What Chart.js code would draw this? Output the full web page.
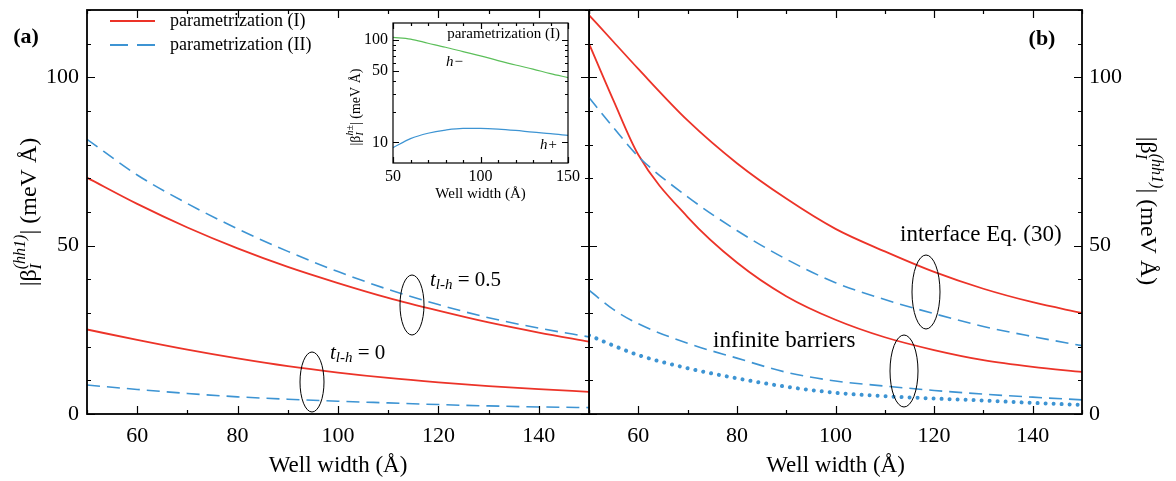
<!DOCTYPE html>
<html>
<head>
<meta charset="utf-8">
<script src="https://cdn.jsdelivr.net/npm/chart.js@4.4.1/dist/chart.umd.min.js"></script>
<style>
  body { margin: 0; background: #fff; }
  #wrap { position: relative; width: 1176px; height: 481px; overflow: hidden; }
  canvas { position: absolute; }
</style>
</head>
<body>
<div id="wrap">
  <canvas id="chartA" width="600" height="481" style="left:0;top:0"></canvas>
  <canvas id="chartB" width="587" height="481" style="left:589px;top:0"></canvas>
  <canvas id="chartInset" width="240" height="190" style="left:340px;top:15px"></canvas>
</div>
<script>
// well widths (Å)
const widths = [50, 60, 70, 80, 90, 100, 110, 120, 130, 140, 150];
const widthsB = [50, 55, 60, 70, 80, 90, 100, 110, 120, 130, 140, 150];

// panel (a), |beta| in meV Å
const aParamI_t05 = [70.2, 62.4, 55.4, 49.2, 43.7, 38.9, 34.5, 30.7, 27.2, 24.2, 21.5];
const aParamII_t05 = [81.6, 71.0, 62.5, 55.0, 48.3, 42.3, 37.0, 32.5, 28.6, 25.5, 22.9];
const aParamI_t0 = [25.1, 22.0, 19.1, 16.5, 14.2, 12.3, 10.7, 9.4, 8.3, 7.4, 6.6];
const aParamII_t0 = [8.6, 7.3, 6.1, 5.1, 4.4, 3.8, 3.3, 2.8, 2.4, 2.1, 1.9];

// panel (b)
const bIfaceI = [118.5, 110.5, 102.5, 87.2, 74.5, 64, 55, 48.3, 42.2, 37.2, 33.2, 30.0];
const bIfaceII = [94, 85, 76.5, 64.5, 54.5, 46, 39, 34, 29.8, 26, 23, 20.3];
const bInfI = [110, 93, 77, 58.5, 45, 35, 28, 22.8, 19, 16, 14, 12.5];
const bInfII = [36.8, 31, 26.8, 21, 16.6, 12.4, 9.8, 8.3, 7.0, 5.9, 5.0, 4.2];
const bDotted = [23.4, 20.3, 17.5, 13.6, 10.6, 8.1, 6.3, 5.3, 4.6, 4.0, 3.3, 2.7];

// inset, parametrization (I)
const insetHMinus = [106, 102, 93, 85, 77, 70, 63, 57, 52, 47, 43];
const insetHPlus = [8.9, 10.9, 12.3, 13.2, 13.7, 13.7, 13.5, 13.1, 12.6, 12.2, 11.7];

// ticks
const xLabelsMain = [60, 80, 100, 120, 140];
const yLabelsMain = [0, 50, 100];
const xLabelsInset = [50, 100, 150];
const yTicksInset = [10, 20, 30, 40, 50, 60, 70, 80, 90, 100];
const yLabelsInset = [10, 50, 100];

const FONT = '"Liberation Serif", "Times New Roman", serif';
const RED = '#ec3328';
const BLUE = '#3d94d3';
const GREEN = '#5cbf5a';
const DASH = [13, 7];

function pts(xs, ys) {
  return xs.map((x, i) => ({ x: x, y: ys[i] }));
}

function curve(label, xs, ys, color, dash, width) {
  return {
    label: label,
    data: pts(xs, ys),
    borderColor: color,
    borderWidth: width || 1.8,
    borderDash: dash || [],
    pointRadius: 0,
    fill: false,
    cubicInterpolationMode: 'monotone'
  };
}

// no extra room for half tick labels, the boxes are placed by hand
function noPad(s) {
  s.paddingTop = 0; s.paddingBottom = 0;
  s.paddingLeft = 0; s.paddingRight = 0;
}

// text with sub/superscripts, parts drawn one after another
function rich(ctx, parts, x, y, align, rot) {
  ctx.save();
  ctx.translate(x, y);
  ctx.rotate(rot || 0);
  ctx.textBaseline = 'middle';
  ctx.textAlign = 'left';
  ctx.fillStyle = '#000';
  let end = 0, prev = 0;
  const placed = parts.map(p => {
    ctx.font = (p.st || '') + ' ' + p.s + 'px ' + FONT;
    const w = ctx.measureText(p.t).width;
    const start = p.back ? prev : end;
    prev = start;
    end = Math.max(end, start + w);
    return { p: p, start: start };
  });
  const off = align === 'center' ? -end / 2 : (align === 'right' ? -end : 0);
  placed.forEach(q => {
    ctx.font = (q.p.st || '') + ' ' + q.p.s + 'px ' + FONT;
    ctx.fillText(q.p.t, off + q.start, q.p.dy || 0);
  });
  ctx.restore();
}

function ellipse(ctx, cx, cy, rx, ry) {
  ctx.save();
  ctx.strokeStyle = '#000';
  ctx.lineWidth = 1;
  ctx.beginPath();
  ctx.ellipse(cx, cy, rx, ry, 0, 0, Math.PI * 2);
  ctx.stroke();
  ctx.restore();
}

// box frame with inward tick marks on all four sides
function frameTicks(xMajor, yMajor, major, minor, frameW) {
  return {
    id: 'frameTicks',
    afterDatasetsDraw(chart) {
      const ctx = chart.ctx, a = chart.chartArea;
      const sx = chart.scales.x, sy = chart.scales.y;
      ctx.save();
      ctx.strokeStyle = '#000';
      ctx.lineWidth = 1.2;
      ctx.beginPath();
      sx.ticks.forEach(t => {
        const p = Math.round(sx.getPixelForValue(t.value)) + 0.5;
        const len = xMajor.includes(t.value) ? major : minor;
        ctx.moveTo(p, a.bottom); ctx.lineTo(p, a.bottom - len);
        ctx.moveTo(p, a.top); ctx.lineTo(p, a.top + len);
      });
      sy.ticks.forEach(t => {
        const p = Math.round(sy.getPixelForValue(t.value)) + 0.5;
        const len = yMajor.includes(t.value) ? major : minor;
        ctx.moveTo(a.left, p); ctx.lineTo(a.left + len, p);
        ctx.moveTo(a.right, p); ctx.lineTo(a.right - len, p);
      });
      ctx.stroke();
      ctx.lineWidth = frameW;
      ctx.strokeRect(a.left, a.top, a.right - a.left, a.bottom - a.top);
      ctx.restore();
    }
  };
}

function mainScales(yPos, yWidth, yPad) {
  return {
    x: {
      type: 'linear', min: 50, max: 150,
      grid: { display: false, drawTicks: false },
      border: { display: false },
      ticks: {
        stepSize: 10, padding: 9, autoSkip: false, maxRotation: 0, color: '#000',
        font: { family: FONT, size: 22 },
        callback: v => xLabelsMain.includes(v) ? String(v) : ''
      },
      title: {
        display: true, text: 'Well width (Å)', color: '#000',
        font: { family: FONT, size: 23 }, padding: { top: 0, bottom: 1 }
      },
      afterFit: s => { s.height = 67; noPad(s); }
    },
    y: {
      type: 'linear', min: 0, max: 120, position: yPos,
      grid: { display: false, drawTicks: false },
      border: { display: false },
      ticks: {
        stepSize: 10, padding: yPad, autoSkip: false, color: '#000',
        font: { family: FONT, size: 22 },
        callback: v => yLabelsMain.includes(v) ? String(v) : ''
      },
      afterFit: s => { s.width = yWidth; noPad(s); }
    }
  };
}

function betaTitle(sup, big, small) {
  return [
    { t: '|β', s: big },
    { t: 'I', s: small, st: 'italic', dy: big * 0.28 },
    { t: sup, s: small, st: 'italic', dy: -big * 0.38, back: true },
    { t: '| (meV Å)', s: big }
  ];
}

// panel (a)
new Chart(document.getElementById('chartA'), {
  type: 'line',
  data: {
    datasets: [
      curve('parametrization (I), t=0.5', widths, aParamI_t05, RED),
      curve('parametrization (II), t=0.5', widths, aParamII_t05, BLUE, DASH, 1.6),
      curve('parametrization (I), t=0', widths, aParamI_t0, RED),
      curve('parametrization (II), t=0', widths, aParamII_t0, BLUE, DASH, 1.6)
    ]
  },
  options: {
    animation: false, responsive: false, devicePixelRatio: 1,
    layout: { padding: { left: 0, right: 11, top: 10, bottom: 0 } },
    plugins: { legend: { display: false }, tooltip: { enabled: false } },
    scales: mainScales('left', 87, 8)
  },
  plugins: [
    frameTicks([60, 80, 100, 120, 140], yLabelsMain, 8, 4, 1.8),
    {
      id: 'notesA',
      afterDraw(chart) {
        const ctx = chart.ctx;
        rich(ctx, [{ t: '(a)', s: 22, st: 'bold' }], 26, 37, 'center');
        // legend
        ctx.save();
        ctx.lineWidth = 2;
        ctx.strokeStyle = RED;
        ctx.beginPath(); ctx.moveTo(110, 21); ctx.lineTo(155, 21); ctx.stroke();
        ctx.strokeStyle = BLUE;
        ctx.setLineDash([18, 9]);
        ctx.beginPath(); ctx.moveTo(110, 45); ctx.lineTo(155, 45); ctx.stroke();
        ctx.restore();
        rich(ctx, [{ t: 'parametrization (I)', s: 18 }], 170, 21, 'left');
        rich(ctx, [{ t: 'parametrization (II)', s: 18 }], 170, 45, 'left');
        // t_{l-h} groups
        const tl = [{ t: 't', s: 21, st: 'italic' }, { t: 'l-h', s: 15, st: 'italic', dy: 5 }];
        rich(ctx, tl.concat([{ t: ' = 0.5', s: 21 }]), 430, 280, 'left');
        rich(ctx, tl.concat([{ t: ' = 0', s: 21 }]), 330, 353, 'left');
        ellipse(ctx, 412, 305, 12, 30);
        ellipse(ctx, 312, 382, 12, 30);
        rich(ctx, betaTitle('(hh1)', 24, 16), 30, 212, 'center', -Math.PI / 2);
      }
    }
  ]
});

// panel (b)
new Chart(document.getElementById('chartB'), {
  type: 'line',
  data: {
    datasets: [
      curve('interface (I)', widthsB, bIfaceI, RED),
      curve('interface (II)', widthsB, bIfaceII, BLUE, DASH, 1.6),
      curve('infinite (I)', widthsB, bInfI, RED),
      curve('infinite (II)', widthsB, bInfII, BLUE, DASH, 1.6),
      Object.assign(curve('dotted', widthsB, bDotted, BLUE, [0.01, 8], 4), { borderCapStyle: 'round' })
    ]
  },
  options: {
    animation: false, responsive: false, devicePixelRatio: 1,
    layout: { padding: { left: 0, right: 0, top: 10, bottom: 0 } },
    plugins: { legend: { display: false }, tooltip: { enabled: false } },
    scales: mainScales('right', 94, 7)
  },
  plugins: [
    frameTicks([60, 80, 100, 120, 140], yLabelsMain, 8, 4, 1.8),
    {
      id: 'notesB',
      afterDraw(chart) {
        const ctx = chart.ctx;
        rich(ctx, [{ t: '(b)', s: 22, st: 'bold' }], 453, 39, 'center');
        rich(ctx, [{ t: 'interface Eq. (30)', s: 23 }], 311, 235, 'left');
        rich(ctx, [{ t: 'infinite barriers', s: 23 }], 124, 341, 'left');
        ellipse(ctx, 337, 292, 14, 37);
        ellipse(ctx, 315, 371, 14, 36);
        rich(ctx, betaTitle('(hh1)', 24, 16), 558, 211, 'center', Math.PI / 2);
      }
    }
  ]
});

// inset
new Chart(document.getElementById('chartInset'), {
  type: 'line',
  data: {
    datasets: [
      curve('h-', widths, insetHMinus, GREEN, [], 1.2),
      curve('h+', widths, insetHPlus, BLUE, [], 1.2)
    ]
  },
  options: {
    animation: false, responsive: false, devicePixelRatio: 1,
    layout: { padding: { left: 0, right: 12, top: 8, bottom: 0 } },
    plugins: { legend: { display: false }, tooltip: { enabled: false } },
    scales: {
      x: {
        type: 'linear', min: 50, max: 150,
        grid: { display: false, drawTicks: false },
        border: { display: false },
        ticks: {
          stepSize: 10, padding: 4, autoSkip: false, maxRotation: 0, color: '#000',
          font: { family: FONT, size: 16 },
          callback: v => xLabelsInset.includes(v) ? String(v) : ''
        },
        title: {
          display: true, text: 'Well width (Å)', color: '#000',
          font: { family: FONT, size: 15 }, padding: { top: 0, bottom: 2 }
        },
        afterFit: s => { s.height = 42; noPad(s); }
      },
      y: {
        type: 'logarithmic', min: 6.3, max: 146.5,
        grid: { display: false, drawTicks: false },
        border: { display: false },
        afterBuildTicks: s => { s.ticks = yTicksInset.map(v => ({ value: v })); },
        ticks: {
          padding: 5, autoSkip: false, color: '#000',
          font: { family: FONT, size: 16 },
          callback: v => yLabelsInset.includes(v) ? String(v) : ''
        },
        afterFit: s => { s.width = 53; noPad(s); }
      }
    }
  },
  plugins: [
    frameTicks(xLabelsInset, yLabelsInset, 6, 3, 1.2),
    {
      id: 'notesInset',
      afterDraw(chart) {
        const ctx = chart.ctx;
        rich(ctx, [{ t: 'parametrization (I)', s: 15 }], 220, 19, 'right');
        rich(ctx, [{ t: 'h−', s: 15, st: 'italic' }], 106, 47, 'left');
        rich(ctx, [{ t: 'h+', s: 15, st: 'italic' }], 200, 130, 'left');
        rich(ctx, betaTitle('h±', 14, 10), 16, 92, 'center', -Math.PI / 2);
      }
    }
  ]
});
</script>
</body>
</html>
